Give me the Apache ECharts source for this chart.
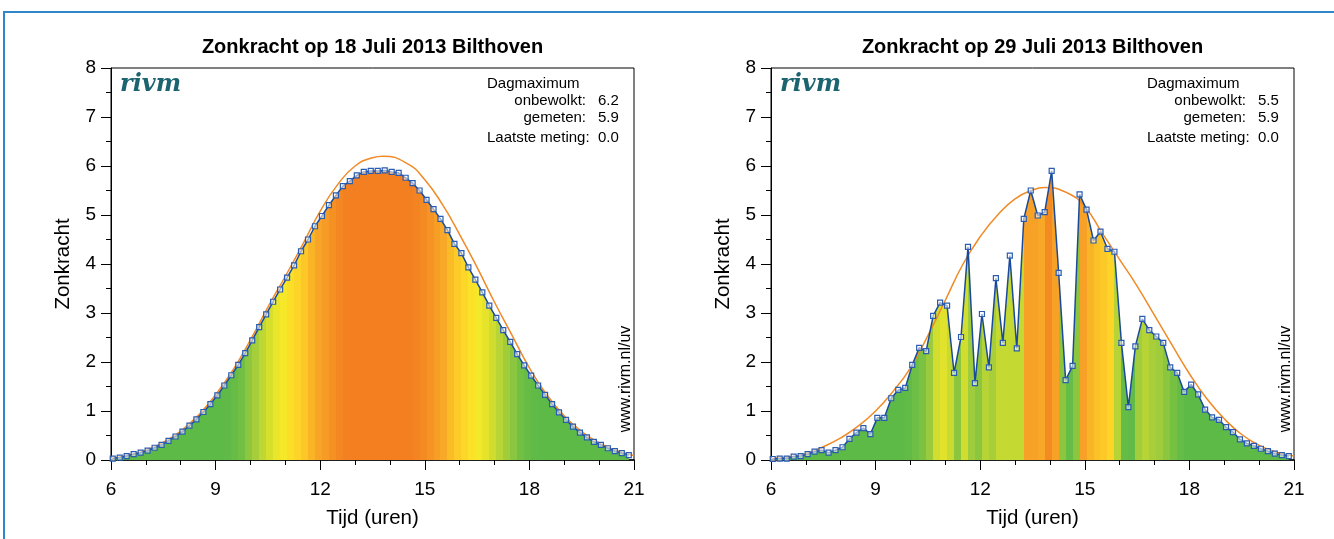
<!DOCTYPE html>
<html>
<head>
<meta charset="utf-8">
<script src="https://cdn.jsdelivr.net/npm/echarts@6/dist/echarts.min.js"></script>
<style>
html,body{margin:0;padding:0;background:#fff;}
#c{width:1334px;height:539px;}
</style>
</head>
<body>
<div id="c"></div>
<script>
// ---------------- DATA ----------------
const chartTitles = ['Zonkracht op 18 Juli 2013 Bilthoven', 'Zonkracht op 29 Juli 2013 Bilthoven'];
const xTickHours = [6, 9, 12, 15, 18, 21];
const yTicks = [0, 1, 2, 3, 4, 5, 6, 7, 8];

// measurements every 12 minutes, first sample just after 06:00
const measureStart = 6.05;
const measureStep = 0.2;

const measured18 = [0.03,0.05,0.08,0.12,0.15,0.19,0.25,0.31,0.39,0.48,
  0.58,0.70,0.83,0.98,1.14,1.32,1.52,1.73,1.94,2.18,
  2.44,2.71,2.97,3.23,3.48,3.72,3.97,4.26,4.50,4.77,
  4.98,5.20,5.40,5.59,5.69,5.81,5.88,5.90,5.90,5.91,
  5.88,5.86,5.76,5.65,5.50,5.31,5.12,4.92,4.69,4.41,
  4.22,3.93,3.68,3.42,3.15,2.90,2.65,2.41,2.16,1.93,
  1.72,1.52,1.33,1.14,0.97,0.82,0.68,0.56,0.46,0.37,
  0.31,0.24,0.18,0.14,0.10];

const measured29 = [0.02,0.03,0.03,0.07,0.08,0.12,0.17,0.20,0.15,0.20,
  0.26,0.43,0.56,0.65,0.53,0.86,0.86,1.26,1.43,1.47,
  1.94,2.29,2.22,2.94,3.21,3.15,1.78,2.51,4.35,1.57,
  2.98,1.89,3.71,2.39,4.17,2.28,4.92,5.50,4.99,5.06,
  5.90,3.82,1.63,1.92,5.42,5.11,4.48,4.66,4.31,4.25,
  2.39,1.08,2.32,2.88,2.65,2.52,2.39,1.89,1.78,1.39,
  1.54,1.34,1.03,0.87,0.82,0.67,0.57,0.42,0.34,0.29,
  0.23,0.18,0.13,0.10,0.08];

// UV level that sets the colour of each 12-minute band on 29 July
const bandLevel29 = [0.02,0.03,0.05,0.07,0.10,0.15,0.18,0.17,0.17,0.23,
  0.35,0.50,0.60,0.60,0.70,0.86,1.06,1.35,1.45,1.70,
  2.00,2.15,2.45,3.05,3.20,2.95,2.30,3.05,2.50,2.30,
  2.75,2.60,2.90,2.90,2.90,2.90,4.95,4.95,4.85,5.40,
  4.95,2.30,1.80,2.30,4.95,4.65,4.45,4.35,4.15,2.75,
  1.80,1.70,2.55,2.75,2.60,2.50,2.30,2.10,1.80,1.50,
  1.45,1.20,0.95,0.85,0.75,0.60,0.50,0.40,0.30,0.25,
  0.20,0.15,0.12,0.09];

// clear-sky (onbewolkt) curve: half-hourly readings plus the read-off peak
const clearSkyHours18 = [6,6.5,7,7.5,8,8.5,9,9.5,10,10.5,11,11.5,12,12.5,13,13.5,13.8,14.5,15,15.5,16,16.5,17,17.5,18,18.5,19,19.5,20,20.5,21];
const clearSky18      = [0.03,0.10,0.20,0.36,0.59,0.91,1.33,1.84,2.45,3.12,3.75,4.40,5.08,5.62,6.00,6.17,6.20,6.05,5.72,5.22,4.60,3.93,3.22,2.55,1.88,1.33,0.90,0.58,0.35,0.19,0.09];
const clearSkyHours29 = [6,6.5,7,7.5,8,8.5,9,9.5,10,10.5,11,11.5,12,12.5,13,13.5,13.85,14.5,15,15.5,16,16.5,17,17.5,18,18.5,19,19.5,20,20.5,21];
const clearSky29      = [0.03,0.06,0.13,0.27,0.45,0.69,1.00,1.40,1.88,2.54,3.26,3.99,4.56,5.00,5.33,5.51,5.56,5.45,5.17,4.63,4.09,3.55,2.95,2.35,1.76,1.25,0.84,0.52,0.30,0.16,0.08];

const dagmax18 = {onbewolkt: '6.2', gemeten: '5.9', laatste: '0.0'};
const dagmax29 = {onbewolkt: '5.5', gemeten: '5.9', laatste: '0.0'};

// ---------------- STYLE ----------------
const FONT = '"Liberation Sans", Arial, Helvetica, sans-serif';
const uvColorStops = [
  [0, '#5eba47'], [1.6, '#5eba47'], [2.0, '#6cbe44'], [2.3, '#8cc63f'], [2.6, '#a8cf3a'],
  [2.9, '#c4d932'], [3.2, '#e0e22b'], [3.5, '#f3ea29'], [3.8, '#fbe127'], [4.2, '#fdd228'],
  [4.5, '#fbbf27'], [4.8, '#f8a927'], [5.1, '#f69a25'], [5.4, '#f48b22'], [5.7, '#f37f21']
];
function hex2rgb(h){return [parseInt(h.substr(1,2),16),parseInt(h.substr(3,2),16),parseInt(h.substr(5,2),16)];}
function uvColor(v){
  if (v <= uvColorStops[0][0]) return uvColorStops[0][1];
  for (let i = 1; i < uvColorStops.length; i++) {
    if (v <= uvColorStops[i][0]) {
      const a = uvColorStops[i-1], b = uvColorStops[i];
      const f = (v - a[0]) / (b[0] - a[0]);
      const ca = hex2rgb(a[1]), cb = hex2rgb(b[1]);
      const c = ca.map((x, k) => Math.round(x + (cb[k] - x) * f));
      return 'rgb(' + c.join(',') + ')';
    }
  }
  return uvColorStops[uvColorStops.length-1][1];
}
function bandGradient(levels){
  const n = levels.length, stops = [];
  levels.forEach((lv, j) => {
    const c = uvColor(lv);
    stops.push({offset: j / n, color: c}, {offset: (j + 1) / n, color: c});
  });
  return new echarts.graphic.LinearGradient(0, 0, 1, 0, stops);
}

const measHours = measured18.map((_, i) => +(measureStart + i * measureStep).toFixed(3));
const pairs = (xs, ys) => ys.map((y, i) => [xs[i], y]);
const meanLevels = vals => vals.slice(0, -1).map((v, i) => (v + vals[i + 1]) / 2);

const charts = [
  {meas: measured18, clearH: clearSkyHours18, clear: clearSky18, levels: meanLevels(measured18), max: dagmax18, left: 111},
  {meas: measured29, clearH: clearSkyHours29, clear: clearSky29, levels: bandLevel29, max: dagmax29, left: 771}
];
const gridW = 523, gridTop = 68, gridH = 392;

const grids = [], xAxes = [], yAxes = [], series = [], graphics = [];
charts.forEach((c, k) => {
  grids.push({left: c.left, top: gridTop, width: gridW, height: gridH, show: true,
    borderColor: '#000', borderWidth: 1, backgroundColor: 'transparent', containLabel: false});
  xAxes.push({gridIndex: k, type: 'value', min: xTickHours[0], max: xTickHours[xTickHours.length-1],
    interval: xTickHours[1] - xTickHours[0],
    axisLine: {show: true, onZero: false, lineStyle: {color: '#000', width: 1.5}},
    axisTick: {show: true, length: 10, lineStyle: {color: '#000', width: 1}},
    minorTick: {show: true, splitNumber: 3, length: 5, lineStyle: {color: '#000', width: 1}},
    splitLine: {show: false}, minorSplitLine: {show: false},
    axisLabel: {color: '#000', fontSize: 19, fontFamily: FONT, margin: 20},
    name: 'Tijd (uren)', nameLocation: 'middle', nameGap: 48,
    nameTextStyle: {color: '#000', fontSize: 20.5, fontFamily: FONT}});
  yAxes.push({gridIndex: k, type: 'value', min: yTicks[0], max: yTicks[yTicks.length-1], interval: yTicks[1] - yTicks[0],
    axisLine: {show: true, onZero: false, lineStyle: {color: '#000', width: 1}},
    axisTick: {show: true, length: 10, lineStyle: {color: '#000', width: 1}},
    minorTick: {show: true, splitNumber: 2, length: 5, lineStyle: {color: '#000', width: 1}},
    splitLine: {show: false}, minorSplitLine: {show: false},
    axisLabel: {color: '#000', fontSize: 19, fontFamily: FONT, margin: 15},
    name: 'Zonkracht', nameLocation: 'middle', nameGap: 37,
    nameTextStyle: {color: '#000', fontSize: 20.5, fontFamily: FONT}});
  const md = pairs(measHours, c.meas);
  series.push({type: 'line', xAxisIndex: k, yAxisIndex: k, data: md, symbol: 'none', silent: true,
    lineStyle: {width: 0, opacity: 0}, areaStyle: {color: bandGradient(c.levels), opacity: 1}, z: 1});
  series.push({type: 'line', xAxisIndex: k, yAxisIndex: k, data: pairs(c.clearH, c.clear),
    symbol: 'none', smooth: 0.5, silent: true, lineStyle: {color: '#f08a26', width: 1.5}, z: 2});
  series.push({type: 'line', xAxisIndex: k, yAxisIndex: k, data: md, symbol: 'rect', symbolSize: 5,
    showAllSymbol: true, silent: true,
    lineStyle: {color: '#1b4a9b', width: 1.5},
    itemStyle: {color: 'rgba(255,255,255,0.55)', borderColor: '#2a5db0', borderWidth: 1.2}, z: 3});

  const cx = c.left + gridW / 2;
  const ax = c.left + 376; // annotation block left
  const lab = c.left + 475; // label right edge
  const val = c.left + 487; // value left edge
  const t = (text, x, y, opts) => Object.assign({type: 'text', x: x, y: y, silent: true,
    style: Object.assign({text: text, fill: '#000', font: '15px ' + FONT, textAlign: 'left', textVerticalAlign: 'middle'}, opts || {})});
  graphics.push(t(chartTitles[k], cx, 47, {font: 'bold 20px ' + FONT, textAlign: 'center'}));
  graphics.push(t('rivm', c.left + 9, 85, {font: 'italic bold 24px "DejaVu Serif", "Liberation Serif", serif', fill: '#1c6470'}));
  graphics.push(t('Dagmaximum', ax, 84));
  graphics.push(t('onbewolkt:', lab, 101, {textAlign: 'right'}));
  graphics.push(t(c.max.onbewolkt, val, 101));
  graphics.push(t('gemeten:', lab, 118, {textAlign: 'right'}));
  graphics.push(t(c.max.gemeten, val, 118));
  graphics.push(t('Laatste meting:', ax, 138));
  graphics.push(t(c.max.laatste, val, 138));
  graphics.push({type: 'text', x: c.left + 515, y: 379, rotation: Math.PI / 2, silent: true,
    style: {text: 'www.rivm.nl/uv', fill: '#000', font: '16px ' + FONT, textAlign: 'center', textVerticalAlign: 'middle'}});
});
graphics.push({type: 'rect', silent: true, shape: {x: 4, y: 12, width: 3000, height: 3000},
  style: {fill: 'none', stroke: '#2f86c8', lineWidth: 2}});

const chart = echarts.init(document.getElementById('c'), null, {renderer: 'canvas'});
chart.setOption({
  animation: false,
  backgroundColor: '#fff',
  grid: grids, xAxis: xAxes, yAxis: yAxes, series: series, graphic: graphics
});
</script>
</body>
</html>
